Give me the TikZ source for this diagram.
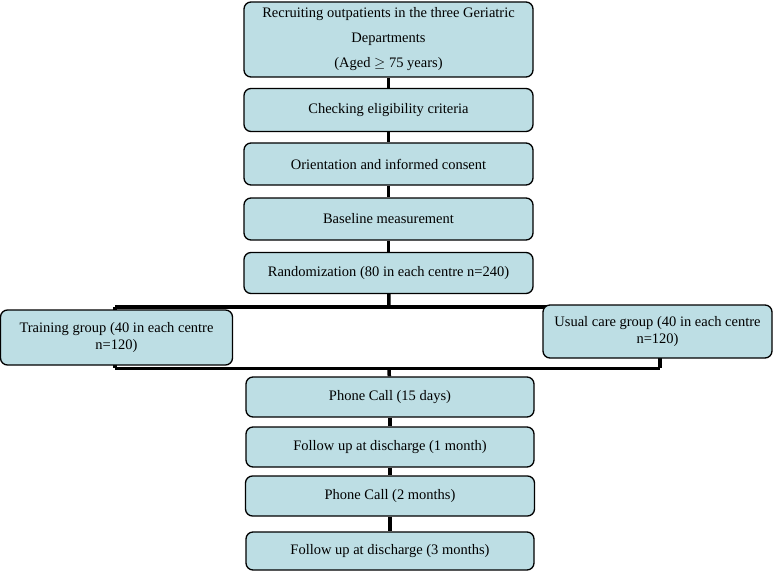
\documentclass[tikz,border=0pt]{standalone}
\usepackage{fontspec}
\setmainfont{Liberation Serif}
\usetikzlibrary{backgrounds}
\definecolor{boxblue}{RGB}{189,222,228}
\tikzset{
  stepbox/.style={draw=black, line width=1.3pt, rounded corners=7pt, fill=boxblue,
    rectangle, inner sep=0pt, align=center,
    font=\fontsize{14.5}{17}\selectfont},
  link/.style={draw=black, line width=3.5pt}
}
\begin{document}
\begin{tikzpicture}[x=1pt, y=-1pt]
\useasboundingbox (0,0) rectangle (778,572);
\node [stepbox, minimum width=289pt, minimum height=75pt] (recruit) at (388.5, 39.5) {Recruiting outpatients in the three Geriatric\\[8pt] Departments\\[8pt] (Aged $\geq$ 75 years)};
\node [stepbox, minimum width=289pt, minimum height=43pt] (elig) at (388.5, 110) {Checking eligibility criteria};
\node [stepbox, minimum width=289pt, minimum height=42pt] (consent) at (388.5, 164) {Orientation and informed consent};
\node [stepbox, minimum width=289pt, minimum height=42pt] (baseline) at (388.5, 219) {Baseline measurement};
\node [stepbox, minimum width=289pt, minimum height=41pt] (random) at (388.5, 273) {Randomization (80 in each centre n=240)};
\node [stepbox, minimum width=232pt, minimum height=55pt] (training) at (116.5, 337.5) {Training group (40 in each centre\\ n=120)};
\node [stepbox, minimum width=229pt, minimum height=53pt] (usual) at (657.5, 331.5) {Usual care group (40 in each centre\\ n=120)};
\node [stepbox, minimum width=288pt, minimum height=40pt] (callA) at (390, 397) {Phone Call (15 days)};
\node [stepbox, minimum width=288pt, minimum height=40pt] (followA) at (390, 447) {Follow up at discharge (1 month)};
\node [stepbox, minimum width=289pt, minimum height=40pt] (callB) at (390, 496) {Phone Call (2 months)};
\node [stepbox, minimum width=288pt, minimum height=38pt] (followB) at (390, 551) {Follow up at discharge (3 months)};
\coordinate (splittop) at (389, 307);
\coordinate (splittopL) at (115, 307);
\coordinate (splittopR) at (660, 307);
\coordinate (splitbot) at (389, 368);
\coordinate (splitbotL) at (115, 368);
\coordinate (splitbotR) at (660, 368);
\begin{scope}[on background layer]
\draw [link] (recruit) -- (elig);
\draw [link] (elig) -- (consent);
\draw [link] (consent) -- (baseline);
\draw [link] (baseline) -- (random);
\draw [link] (random) -- (splittop);
\draw [link] (splittopL) -- (splittopR);
\draw [link] (splittopL) -- (splitbotL);
\draw [link] (splittopR) -- (splitbotR);
\draw [link, line width=3pt] (splitbotL) -- (splitbotR);
\draw [link] (splitbot) -- (callA);
\draw [link] (callA) -- (followA);
\draw [link] (followA) -- (callB);
\draw [link] (callB) -- (followB);
\end{scope}
\end{tikzpicture}
\end{document}
